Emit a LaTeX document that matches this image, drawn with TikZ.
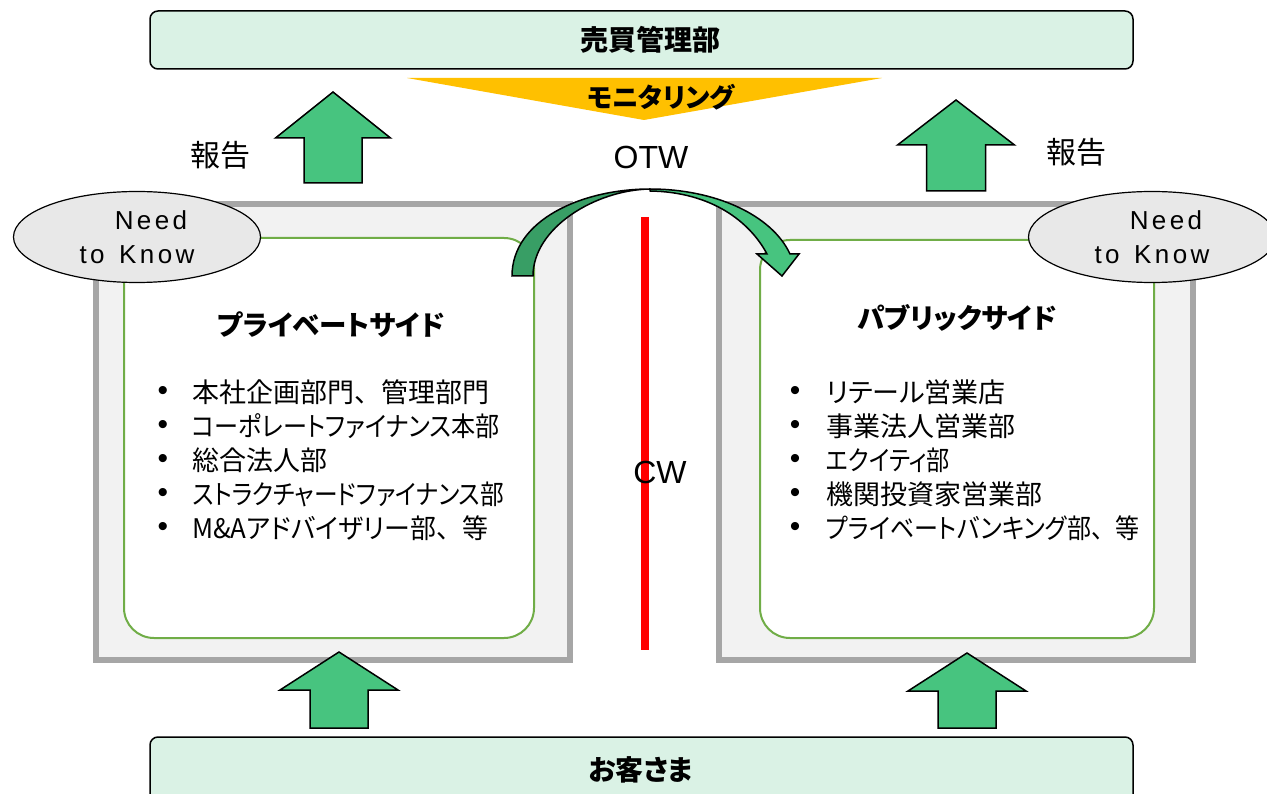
\documentclass[tikz,border=0pt]{standalone}
\usepackage{fontspec}
\setmainfont{Liberation Sans}
\newfontfamily\jp[RawFeature=+palt]{Noto Sans CJK JP}
\newfontfamily\jpf{Noto Sans CJK JP}
\usetikzlibrary{shapes.geometric}
\definecolor{barfill}{HTML}{DAF2E5}
\definecolor{boxgray}{HTML}{F2F2F2}
\definecolor{bordergray}{HTML}{A6A6A6}
\definecolor{innergreen}{HTML}{70AD47}
\definecolor{arrowgreen}{HTML}{47C47F}
\definecolor{darkgreen}{HTML}{389E65}
\definecolor{monyellow}{HTML}{FFC000}
\definecolor{ellgray}{HTML}{E8E8E8}
\tikzset{
  bar/.style={draw=black, line width=1.5pt, fill=barfill, rounded corners=8pt, inner sep=0pt, outer sep=0pt},
  outerbox/.style={draw=bordergray, line width=6pt, fill=boxgray, inner sep=0pt, outer sep=0pt},
  innerbox/.style={draw=innergreen, line width=2pt, fill=white, rounded corners=30pt, inner sep=0pt, outer sep=0pt},
  blockarrow/.style={draw=black, line width=1.5pt, fill=arrowgreen, line join=miter},
  curvefront/.style={draw=black, line width=1.5pt, fill=arrowgreen, line join=miter},
  curveback/.style={draw=black, line width=1.5pt, fill=darkgreen, line join=miter},
  ell/.style={ellipse, draw=black, line width=1.2pt, fill=ellgray, minimum width=247pt, minimum height=91pt, inner sep=0pt, align=center, font=\fontsize{26}{34}\selectfont\addfontfeatures{LetterSpace=13}},
  redline/.style={draw=red, line width=8pt},
  bartext/.style={font=\jp\bfseries\fontsize{28}{30}\selectfont, inner sep=0pt},
  titletext/.style={font=\jp\bfseries\fontsize{27.5}{30}\selectfont, inner sep=0pt},
  listtext/.style={font=\jp\fontsize{27}{30}\selectfont, inner sep=0pt, anchor=west},
  bullettext/.style={font=\fontsize{30}{30}\selectfont, inner sep=0pt},
  reporttext/.style={font=\jp\fontsize{30}{32}\selectfont, inner sep=0pt},
  latintext/.style={font=\fontsize{32}{34}\selectfont, inner sep=0pt},
}
\newcommand\blockup[6]{% x, tip y, barb y, bottom y, head half width, shaft half width
  \draw[blockarrow] (#1,#2) -- ({#1+#5},#3) -- ({#1+#6},#3) -- ({#1+#6},#4) -- ({#1-#6},#4) -- ({#1-#6},#3) -- ({#1-#5},#3) -- cycle;}
\newcommand\tenten{{\jpf 、}}
\begin{document}
\begin{tikzpicture}[x=1pt,y=-1pt]
\clip (0,0) rectangle (1267,794);
\fill[white] (0,0) rectangle (1267,794);

% outer gray boxes
\node[outerbox, minimum width=474pt, minimum height=456pt] (leftOuter) at (333,432) {};
\node[outerbox, minimum width=474pt, minimum height=456pt] (rightOuter) at (956,432) {};
% inner green boxes
\node[innerbox, minimum width=410pt, minimum height=400pt] (leftInner) at (329,438) {};
\node[innerbox, minimum width=394pt, minimum height=398pt] (rightInner) at (957,439) {};

% chinese wall
\coordinate (cwTop) at (645,217);
\coordinate (cwBot) at (645,650);
\draw[redline] (cwTop) -- (cwBot);
\node[latintext] (cw) at (660,472) {CW};

% curved OTW arrow
\draw[curvefront] (650,189) .. controls (715,189) and (772,215) .. (790,254) -- (799,254) -- (782,276) -- (757,254) -- (767,254) .. controls (750,222) and (712,192) .. (650,191) -- cycle;
\draw[curveback] (512,276) .. controls (512,220) and (582,189) .. (650,189) .. controls (595,190) and (533,228) .. (533,276) -- cycle;

% need to know ellipses
\node[ell] (leftNtk) at (137,237) {\hspace{28pt}Need\\to\hspace{4pt} Know};
\node[ell] (rightNtk) at (1152,237) {\hspace{28pt}Need\\to\hspace{4pt} Know};

% block arrows
\blockup{333}{92}{138}{183}{57.5}{29}
\blockup{956}{100}{145}{191}{58.5}{29.5}
\blockup{339}{652}{690}{728}{59}{29}
\blockup{967}{653}{691}{728}{59}{29}

% bars
\node[bar, minimum width=983pt, minimum height=58pt] (topBar) at (641.5,40) {};
\node[bartext] (topText) at (650,40) {売買管理部};
\node[bar, minimum width=983pt, minimum height=80pt] (bottomBar) at (641.5,777) {};
\node[bartext] (bottomText) at (641,770) {お客さま};

% monitoring
\fill[monyellow] (407,78) -- (882,78) -- (644,120) -- cycle;
\node[font=\jp\bfseries\fontsize{26.5}{28}\selectfont, inner sep=0pt] (monText) at (661,97) {モニタリング};

\node[latintext] (otw) at (651,157) {OTW};
\node[reporttext] (repL) at (220,155) {報告};
\node[reporttext] (repR) at (1076,152) {報告};

% left list
\node[titletext] (leftTitle) at (331,325) {プライベートサイド};
\foreach \i in {0,...,4} {\node[bullettext] (lb\i) at (163,{393+34*\i}) {•};}
\node[listtext] (lt0) at (192,392) {本社企画部門\tenten 管理部門};
\node[listtext] (lt1) at (192,426) {\scalebox{0.892}[1]{コーポレートファイナンス本部}};
\node[listtext] (lt2) at (192,460) {総合法人部};
\node[listtext] (lt3) at (192,494) {\scalebox{0.878}[1]{ストラクチャードファイナンス部}};
\node[listtext] (lt4) at (192,528) {\scalebox{0.96}[1]{M\&Aアドバイザリー部\tenten 等}};
% right list
\node[titletext] (rightTitle) at (957,318) {パブリックサイド};
\foreach \i in {0,...,4} {\node[bullettext] (rb\i) at (795,{393+34*\i}) {•};}
\node[listtext] (rt0) at (826,392) {リテール営業店};
\node[listtext] (rt1) at (826,426) {事業法人営業部};
\node[listtext] (rt2) at (826,460) {\scalebox{0.86}[1]{エクイティ部}};
\node[listtext] (rt3) at (826,494) {機関投資家営業部};
\node[listtext] (rt4) at (826,528) {\scalebox{0.89}[1]{プライベートバンキング部\tenten 等}};
\end{tikzpicture}
\end{document}
